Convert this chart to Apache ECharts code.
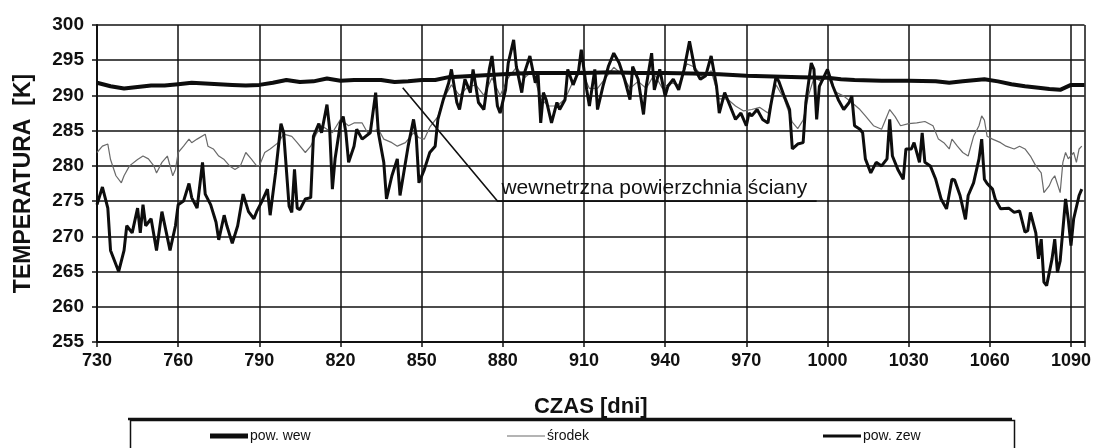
<!DOCTYPE html>
<html>
<head>
<meta charset="utf-8">
<script src="https://cdn.jsdelivr.net/npm/echarts@6/dist/echarts.min.js"></script>
<style>
  html, body { margin: 0; padding: 0; background: #fff; }
  #chart { width: 1094px; height: 448px; }
</style>
</head>
<body>
<div id="chart"></div>
<script>
// Inner wall surface temperature (pow. wew)
const wewDays = [730, 735, 740, 745, 750, 755, 760, 765, 770, 775, 780, 785, 790, 795, 800, 805, 810, 815, 820, 825, 830, 835, 840, 845, 850, 855, 860, 870, 880, 890, 900, 910, 920, 930, 940, 950, 960, 970, 980, 990, 1000, 1005, 1010, 1020, 1030, 1040, 1045, 1050, 1058, 1063, 1068, 1073, 1078, 1082, 1086, 1090, 1095];
const wewTemp = [291.8, 291.3, 291.0, 291.2, 291.4, 291.4, 291.6, 291.8, 291.7, 291.6, 291.5, 291.4, 291.5, 291.8, 292.2, 291.9, 292.0, 292.4, 292.1, 292.2, 292.2, 292.2, 291.9, 292.0, 292.2, 292.2, 292.6, 292.8, 293.0, 293.2, 293.2, 293.2, 293.3, 293.2, 293.2, 293.1, 293.0, 292.8, 292.7, 292.6, 292.5, 292.3, 292.2, 292.1, 292.1, 292.0, 291.8, 292.0, 292.3, 292.0, 291.6, 291.3, 291.1, 290.9, 290.8, 291.5, 291.5];

// Mid-wall temperature (środek)
const midDays = [730, 732, 734, 735, 737, 739, 740, 742, 745, 747, 749, 751, 752, 754, 756, 758, 759, 760, 762, 764, 765, 767, 770, 771, 773, 775, 777, 779, 781, 783, 785, 787, 789, 790, 792, 794, 797, 799, 802, 804, 807, 809, 811, 813, 817, 820, 823, 825, 828, 830, 834, 836, 839, 841, 844, 847, 849, 851, 853, 856, 858, 861, 864, 867, 870, 873, 876, 879, 882, 885, 888, 891, 894, 897, 900, 903, 906, 909, 912, 915, 918, 921, 924, 927, 930, 933, 936, 939, 942, 945, 948, 951, 954, 957, 960, 963, 966, 969, 972, 975, 978, 981, 984, 987, 989, 991, 993, 995, 998, 1000, 1003, 1006, 1009, 1012, 1014, 1017, 1020, 1023, 1025, 1027, 1030, 1033, 1036, 1039, 1041, 1043, 1045, 1046, 1048, 1050, 1052, 1054, 1056, 1057, 1058, 1059, 1061, 1064, 1066, 1069, 1071, 1073, 1075, 1077, 1079, 1080, 1082, 1083, 1084, 1086, 1087, 1088, 1089, 1091, 1092, 1093, 1094];
const midTemp = [281.9, 282.8, 283.1, 280.9, 278.6, 277.6, 278.6, 280.0, 280.9, 281.4, 281.0, 280.0, 279.0, 280.5, 281.4, 278.6, 279.5, 281.9, 282.8, 283.8, 283.3, 283.8, 284.5, 282.8, 282.4, 281.4, 280.9, 280.0, 279.5, 280.0, 281.9, 281.0, 280.0, 280.0, 281.9, 282.4, 283.3, 284.5, 284.2, 283.3, 281.9, 282.8, 284.5, 285.7, 284.7, 286.6, 285.7, 286.1, 286.1, 284.7, 285.2, 283.8, 283.3, 282.8, 283.3, 284.7, 284.0, 283.8, 285.5, 287.0, 289.5, 291.5, 290.0, 291.2, 291.5, 290.0, 292.5, 290.0, 292.5, 294.0, 292.5, 293.5, 289.5, 288.5, 288.5, 289.5, 292.0, 293.5, 291.0, 291.0, 292.5, 294.0, 293.0, 291.0, 292.0, 291.0, 293.0, 291.0, 291.8, 291.5, 294.5, 294.0, 292.5, 293.5, 289.5, 289.5, 288.5, 287.8, 288.0, 288.3, 287.5, 291.5, 289.5, 286.2, 285.3, 286.5, 290.0, 292.5, 292.0, 292.8, 290.5, 289.9, 289.0, 288.0, 287.1, 285.7, 285.2, 288.0, 287.0, 285.7, 286.0, 286.1, 286.3, 285.7, 283.8, 283.3, 282.4, 283.8, 282.8, 281.9, 281.4, 284.2, 285.7, 287.1, 286.5, 284.2, 283.8, 283.3, 282.8, 282.4, 282.8, 282.4, 281.4, 280.0, 279.0, 276.2, 277.2, 278.1, 278.6, 276.2, 280.5, 281.9, 281.0, 281.9, 280.5, 282.4, 282.8];

// Outer wall surface temperature (pow. zew)
const zewDays = [730, 732, 734, 735, 738, 740, 741, 743, 745, 746, 747, 748, 750, 752, 754, 757, 759, 760, 762, 764, 765, 767, 769, 770, 772, 774, 775, 777, 778, 780, 782, 784, 786, 788, 789, 791, 793, 794, 796, 798, 799, 801, 802, 803, 804, 805, 807, 809, 810, 812, 813, 815, 816, 817, 818, 820, 821, 822, 823, 825, 826, 828, 831, 833, 834, 836, 837, 839, 841, 842, 845, 847, 848, 849, 851, 853, 855, 856, 858, 860, 861, 863, 864, 866, 868, 869, 871, 873, 875, 876, 878, 879, 881, 882, 884, 885, 887, 888, 890, 892, 893, 894, 895, 896, 898, 900, 901, 903, 904, 906, 908, 909, 911, 912, 914, 915, 917, 919, 921, 923, 925, 927, 928, 930, 932, 933, 935, 936, 938, 940, 941, 943, 945, 947, 949, 951, 953, 955, 957, 959, 960, 962, 964, 966, 968, 970, 971, 972, 974, 976, 978, 979, 981, 982, 984, 986, 987, 989, 991, 992, 994, 995, 996, 997, 1000, 1002, 1004, 1006, 1008, 1009, 1010, 1012, 1013, 1014, 1016, 1018, 1020, 1022, 1023, 1024, 1026, 1028, 1029, 1031, 1032, 1034, 1035, 1036, 1038, 1040, 1042, 1044, 1046, 1047, 1049, 1051, 1052, 1054, 1056, 1057, 1058, 1059, 1061, 1062, 1064, 1067, 1069, 1071, 1073, 1074, 1075, 1077, 1078, 1079, 1080, 1081, 1083, 1084, 1085, 1086, 1088, 1089, 1090, 1091, 1093, 1094];
const zewTemp = [274.5, 277.0, 274.0, 268.0, 265.0, 268.0, 271.5, 270.5, 274.0, 270.5, 274.5, 271.5, 272.5, 268.0, 273.5, 268.0, 271.5, 274.5, 275.0, 277.5, 275.5, 274.0, 280.5, 276.0, 274.5, 272.0, 269.5, 273.0, 271.5, 269.0, 271.5, 276.0, 273.5, 272.5, 273.5, 275.0, 276.7, 273.0, 279.0, 286.0, 284.7, 274.3, 273.4, 279.5, 274.0, 273.8, 275.3, 275.5, 284.2, 286.0, 284.7, 288.7, 285.2, 276.7, 281.0, 286.1, 287.0, 284.7, 280.5, 282.8, 285.2, 283.8, 284.7, 290.4, 284.7, 280.5, 275.3, 278.6, 281.0, 275.8, 282.8, 286.6, 284.2, 277.6, 279.5, 281.9, 282.8, 286.6, 289.4, 291.8, 293.7, 289.0, 288.0, 292.3, 290.4, 293.7, 289.0, 288.0, 293.7, 295.6, 288.5, 287.5, 290.8, 294.6, 297.9, 294.1, 290.4, 293.2, 295.6, 291.8, 293.2, 286.1, 290.4, 289.4, 286.1, 289.0, 288.0, 289.4, 293.7, 291.5, 293.5, 296.5, 290.8, 288.5, 293.7, 288.0, 291.3, 294.1, 296.0, 294.6, 292.3, 289.4, 294.1, 292.3, 287.3, 291.3, 296.0, 290.8, 293.7, 289.9, 291.3, 292.3, 290.8, 293.7, 297.7, 293.7, 292.3, 292.8, 295.6, 291.3, 287.5, 290.4, 288.5, 286.6, 287.5, 285.7, 287.5, 287.1, 288.0, 286.6, 286.1, 288.5, 292.7, 292.0, 289.9, 288.0, 282.4, 283.1, 283.3, 289.0, 294.6, 293.7, 286.6, 291.3, 293.7, 291.3, 289.4, 288.0, 289.0, 289.9, 285.7, 285.2, 284.7, 281.0, 279.0, 280.5, 280.0, 281.0, 286.6, 281.4, 279.5, 278.1, 282.4, 282.4, 283.3, 280.5, 284.7, 280.5, 280.0, 278.1, 275.3, 273.9, 278.1, 278.0, 275.8, 272.4, 275.8, 277.6, 281.0, 283.8, 278.1, 277.5, 276.7, 275.3, 273.9, 274.0, 273.4, 273.6, 270.6, 270.8, 273.4, 270.5, 266.8, 269.6, 263.5, 263.0, 266.8, 269.6, 264.9, 266.5, 275.3, 272.4, 268.7, 272.5, 275.8, 276.7];

// Leader line of the annotation (day, K) and its text
const noteDays = [843, 878, 996];
const noteTemp = [291.1, 275, 275];
const noteText = 'wewnetrzna powierzchnia ściany';

const zip = (xs, ys) => xs.map((x, i) => [x, ys[i]]);
const FONT = '"Liberation Sans", Arial, sans-serif';

const chart = echarts.init(document.getElementById('chart'), null, { renderer: 'canvas' });

// Legend entry: a plain bar of the series' line thickness, then the label
const legendItem = (name, left, thickness, color) => ({
  data: [name], left: left, top: 424, icon: 'rect',
  itemWidth: 38, itemHeight: thickness, itemGap: 4,
  itemStyle: { color: color, borderWidth: 0 },
  textStyle: { fontFamily: FONT, fontSize: 14, color: '#111', padding: [0, 0, 0, -3] }
});

chart.setOption({
  animation: false,
  backgroundColor: '#fff',
  grid: { left: 97, right: 9, top: 25, bottom: 106, containLabel: false },
  xAxis: {
    type: 'value', min: 730, max: 1095, interval: 30,
    name: 'CZAS [dni]', nameLocation: 'middle', nameGap: 54,
    nameTextStyle: { fontFamily: FONT, fontWeight: 'bold', fontSize: 22, color: '#111' },
    axisLine: { show: true, lineStyle: { color: '#111', width: 2 } },
    axisTick: { show: true, length: 5, lineStyle: { color: '#111', width: 1.5 } },
    axisLabel: {
      margin: 10, fontFamily: FONT, fontWeight: 'bold', fontSize: 18, color: '#111',
      formatter: v => (v % 30 === 10 ? String(v) : '')
    },
    splitLine: { show: true, lineStyle: { color: '#111', width: 1.5 } }
  },
  yAxis: {
    type: 'value', min: 255, max: 300, interval: 5,
    name: 'TEMPERATURA  [K]', nameLocation: 'middle', nameGap: 62, nameRotate: 90,
    nameTextStyle: { fontFamily: FONT, fontWeight: 'bold', fontSize: 23, color: '#111' },
    axisLine: { show: true, lineStyle: { color: '#111', width: 2 } },
    axisTick: { show: true, length: 5, lineStyle: { color: '#111', width: 1.5 } },
    axisLabel: { margin: 13, fontFamily: FONT, fontWeight: 'bold', fontSize: 19, color: '#111' },
    splitLine: { show: true, lineStyle: { color: '#111', width: 1.5 } }
  },
  legend: [
    legendItem('pow. wew', 205, 5, '#0d0d0d'),
    legendItem('środek', 502, 1, '#6a6a6a'),
    legendItem('pow. zew', 818, 3, '#0d0d0d')
  ],
  series: [
    {
      name: 'środek', type: 'line', data: zip(midDays, midTemp),
      symbol: 'none', z: 3,
      lineStyle: { color: '#6a6a6a', width: 1.2 }, itemStyle: { color: '#6a6a6a' }
    },
    {
      name: 'pow. zew', type: 'line', data: zip(zewDays, zewTemp),
      symbol: 'none', z: 4,
      lineStyle: { color: '#0d0d0d', width: 3 }, itemStyle: { color: '#0d0d0d' }
    },
    {
      name: 'pow. wew', type: 'line', data: zip(wewDays, wewTemp),
      symbol: 'none', z: 5,
      lineStyle: { color: '#0d0d0d', width: 4 }, itemStyle: { color: '#0d0d0d' }
    },
    {
      name: 'note', type: 'line', data: zip(noteDays, noteTemp),
      symbol: 'none', silent: true, z: 6,
      lineStyle: { color: '#111', width: 1.6 }
    }
  ]
});

// Annotation text sits on the horizontal part of the leader line
const anchor = chart.convertToPixel({ gridIndex: 0 }, [noteDays[1], noteTemp[1]]);
// Legend frame below the axis title
chart.setOption({
  graphic: [
    {
      type: 'text', left: anchor[0] + 4, top: anchor[1] - 23, z: 10,
      style: { text: noteText, fontFamily: FONT, fontSize: 21, fill: '#111' }
    },
    {
      type: 'rect', left: 128, top: 418, z: 1,
      shape: { width: 884, height: 40 },
      style: { fill: 'none', stroke: '#111', lineWidth: 1.5 }
    },
    {
      type: 'line', z: 1,
      shape: { x1: 128, y1: 419, x2: 1012, y2: 419 },
      style: { stroke: '#111', lineWidth: 2.5 }
    }
  ]
});
</script>
</body>
</html>
